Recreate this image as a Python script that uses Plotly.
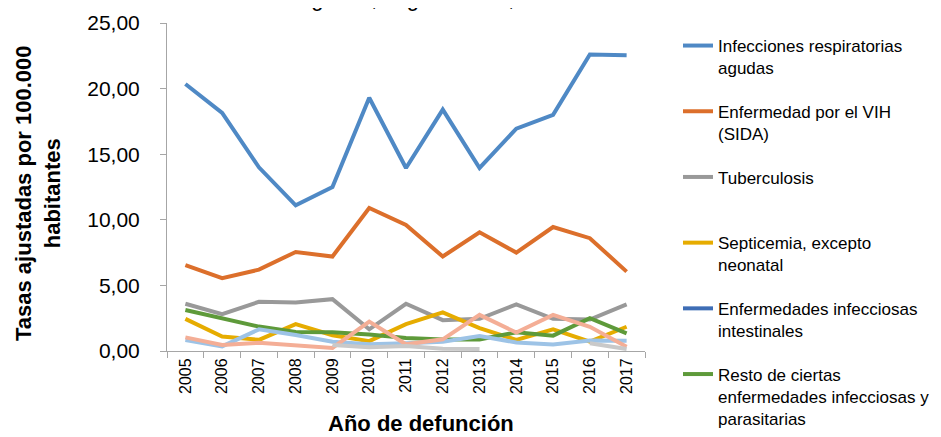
import plotly.graph_objects as go

years = [str(y) for y in range(2005, 2018)]

# tasas ajustadas por 100.000 habitantes
resp_agudas = [20.35, 18.15, 14.0, 11.1, 12.5, 19.3, 13.95, 18.4, 13.95, 16.95, 18.0, 22.6, 22.55]
vih_sida = [6.55, 5.55, 6.2, 7.55, 7.2, 10.9, 9.6, 7.2, 9.05, 7.5, 9.45, 8.6, 6.05]
tuberculosis = [3.6, 2.8, 3.75, 3.7, 3.95, 1.65, 3.6, 2.35, 2.45, 3.55, 2.45, 2.4, 3.55]
septicemia = [2.45, 1.1, 0.85, 2.05, 1.2, 0.75, 2.05, 2.95, 1.75, 0.85, 1.65, 0.72, 1.85]
intestinales = [None] * 13
resto_infecciosas = [3.13, 2.5, 1.86, 1.45, 1.42, 1.25, 1.0, 0.88, 0.88, 1.42, 1.17, 2.5, 1.35]
serie_azul_claro = [0.84, 0.35, 1.65, 1.22, 0.71, 0.51, 0.59, 0.71, 1.15, 0.65, 0.5, 0.8, 0.79]
serie_salmon = [1.04, 0.46, 0.63, 0.41, 0.23, 2.24, 0.51, 0.89, 2.75, 1.4, 2.75, 1.85, 0.33]
serie_gris_claro = [None, None, None, None, 0.46, 0.28, 0.38, 0.18, 0.15, None, None, 0.59, 0.15]

FONT = "Liberation Sans, Arial, sans-serif"

series = [
    ("Infecciones respiratorias<br>agudas", resp_agudas, "#4F89C5", True),
    ("Enfermedad por el VIH<br>(SIDA)", vih_sida, "#DC6F2B", True),
    ("Tuberculosis<br>&nbsp;", tuberculosis, "#999999", True),
    ("Septicemia, excepto<br>neonatal", septicemia, "#E6AC00", True),
    ("Enfermedades infecciosas<br>intestinales", intestinales, "#3E6DB5", True),
    ("Resto de ciertas<br>enfermedades infecciosas y<br>parasitarias", resto_infecciosas, "#5E9A3A", True),
    ("serie 7", serie_azul_claro, "#9DC3E6", False),
    ("serie 8", serie_salmon, "#F4AE96", False),
    ("serie 9", serie_gris_claro, "#C9C9C9", False),
]

fig = go.Figure()
for i, (name, vals, color, show) in enumerate(series):
    fig.add_trace(go.Scatter(
        x=years, y=vals, name=name, mode="lines",
        line=dict(color=color, width=4),
        showlegend=show, legendgroup=f"g{i}",
    ))

# la pagina deja 8px de margen en el body: se compensa aqui
OFF = 8
W, H = 941 - OFF, 437 - OFF
L, T = 167 - OFF, 23 - OFF
R = W - (645 - OFF)
B = H - (351 - OFF)


def px_x(x):
    # x en pixeles de la pagina -> fraccion del area de trazado
    return (x - OFF - L) / (W - L - R)


def px_y(y):
    return (H - B - (y - OFF)) / (H - T - B)


fig.update_layout(
    width=W, height=H,
    margin=dict(l=L, r=R, t=T, b=B, autoexpand=False),
    paper_bgcolor="white", plot_bgcolor="white",
    separators=",.",
    font=dict(family=FONT, color="#000000"),
    legend=dict(
        x=px_x(678), y=px_y(28), xanchor="left", yanchor="top",
        font=dict(size=17, family=FONT),
        valign="top", tracegroupgap=18.5, maxheight=H,
        bgcolor="rgba(0,0,0,0)",
    ),
    xaxis=dict(
        type="category", range=[-0.5, 12.5], showgrid=False,
        showline=True, linecolor="#A6A6A6", linewidth=1,
        ticks="outside", tickson="boundaries", ticklen=6, tickcolor="#A6A6A6",
        tickangle=-90, tickfont=dict(size=16, family=FONT),
    ),
    yaxis=dict(
        range=[0, 25], dtick=5, tickformat=".2f", showgrid=False, zeroline=False,
        showline=True, linecolor="#A6A6A6", linewidth=1,
        ticks="outside", ticklen=6, tickcolor="#A6A6A6",
        ticklabelstandoff=16,
        tickfont=dict(size=21, family=FONT),
    ),
)

fig.add_annotation(text="<b>Año de defunción</b>", x=px_x(421), y=px_y(423),
                   xref="paper", yref="paper", showarrow=False,
                   font=dict(size=22, family=FONT), xanchor="center", yanchor="middle")
fig.add_annotation(text="<b>Tasas ajustadas por 100.000<br>habitantes</b>", x=px_x(38), y=px_y(193),
                   xref="paper", yref="paper", showarrow=False, textangle=-90,
                   font=dict(size=22, family=FONT), xanchor="center", yanchor="middle")
fig.add_annotation(text="agudas, según causa, 2005-2017", x=px_x(462), y=px_y(13),
                   xref="paper", yref="paper", showarrow=False,
                   font=dict(size=22, family=FONT), xanchor="center", yanchor="bottom")

fig.write_html("out.html")
